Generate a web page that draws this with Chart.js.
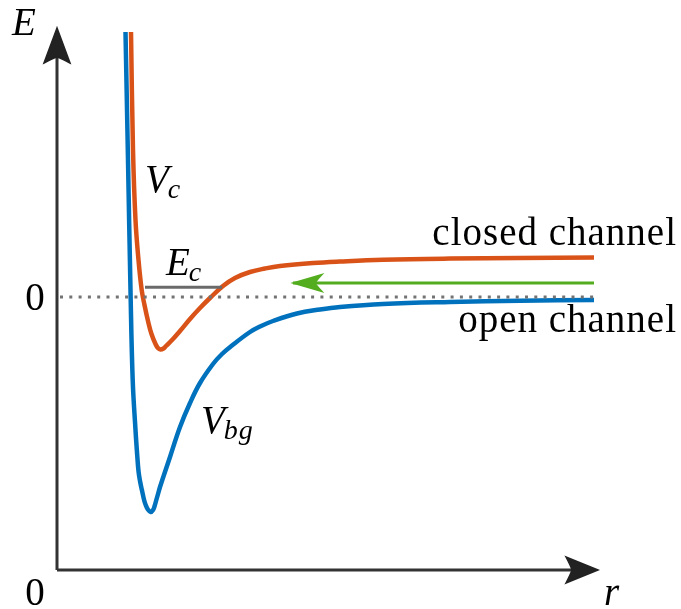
<!DOCTYPE html>
<html lang="en">
<head>
    <meta charset="UTF-8">
    <title>Open and closed channel potentials</title>
    <script src="https://cdn.jsdelivr.net/npm/chart.js"></script>
    <style>
        body {
            margin: 0;
            background: white;
        }
        #potChart {
            display: block;
        }
    </style>
</head>
<body>
    <canvas id="potChart" width="681" height="609"></canvas>

    <script>
        // Background (open channel) potential V_bg
        const rVbg = [0.685, 0.71, 0.735, 0.757, 0.785, 0.802, 0.816, 0.832, 0.849, 0.871, 0.887, 0.906,
                      0.937, 0.96, 0.976, 0.993, 1.013, 1.03, 1.13, 1.23, 1.33, 1.43, 1.56, 1.65, 1.75,
                      1.93, 2.03, 2.16, 2.40, 2.63, 2.83, 3.26, 3.93, 4.63, 5.37];
        const eVbg = [2.65, 1.37, 0.07, -0.83, -1.33, -1.58, -1.75, -1.85, -1.93, -2.03, -2.08, -2.12,
                      -2.15, -2.13, -2.09, -2.03, -1.96, -1.90, -1.60, -1.30, -1.06, -0.86, -0.67, -0.57, -0.485,
                      -0.35, -0.295, -0.24, -0.165, -0.125, -0.10, -0.07, -0.05, -0.038, -0.03];

        // Closed channel potential V_c
        const rVc = [0.74, 0.76, 0.785, 0.815, 0.847, 0.875, 0.91, 0.945, 0.985, 1.009, 1.035, 1.064, 1.09,
                     1.16, 1.23, 1.33, 1.43, 1.53, 1.66, 1.78, 1.93, 2.08, 2.23, 2.56, 2.83, 3.26, 3.93, 4.63, 5.37];
        const eVc = [2.65, 1.47, 0.77, 0.37, 0.07, -0.08, -0.24, -0.37, -0.47, -0.51, -0.525, -0.515, -0.49,
                     -0.42, -0.34, -0.22, -0.11, -0.01, 0.11, 0.19, 0.25, 0.285, 0.31, 0.34, 0.355, 0.372, 0.384, 0.39, 0.395];

        // Bound state level E_c, threshold line and incoming arrow
        const rEc = [0.88, 1.65];
        const eEc = 0.097;
        const rZero = [0.03, 5.37];
        const rIncoming = [5.37, 2.36];
        const eIncoming = 0.14;

        // Axes extents
        const axisOrigin = [0, -2.73];
        const eAxisTop = 2.69;
        const rAxisEnd = 5.41;

        // Text labels: [main, subscript, r, E, align, italic]
        const labels = [
            ['E', '', -0.45, 2.62, 'left', true],
            ['0', '', -0.22, -0.13, 'center', false],
            ['0', '', -0.22, -3.08, 'center', false],
            ['r', '', 5.47, -3.08, 'left', true],
            ['V', 'c', 0.88, 1.05, 'left', true],
            ['E', 'c', 1.09, 0.22, 'left', true],
            ['V', 'bg', 1.44, -1.36, 'left', true],
            ['closed channel', '', 6.20, 0.52, 'right', false],
            ['open channel', '', 6.20, -0.35, 'right', false]
        ];

        const toPoints = (rs, es) => rs.map((r, i) => ({x: r, y: es[i]}));

        const axisColor = '#333333';
        const greenColor = '#53ad1f';

        const arrowHeads = [
            {tip: [axisOrigin[0], eAxisTop], from: axisOrigin, len: 35, half: 13, notch: 6, color: '#222222'},
            {tip: [rAxisEnd, axisOrigin[1]], from: axisOrigin, len: 32, half: 13, notch: 6, color: '#222222'},
            {tip: [rIncoming[1], eIncoming], from: [rIncoming[0], eIncoming], len: 29, half: 8.5, notch: 7, color: greenColor}
        ];

        const overlay = {
            id: 'overlay',
            afterDatasetsDraw(chart) {
                const {ctx, scales: {x, y}} = chart;
                const px = v => x.getPixelForValue(v);
                const py = v => y.getPixelForValue(v);

                // arrow heads
                arrowHeads.forEach(a => {
                    const tx = px(a.tip[0]), ty = py(a.tip[1]);
                    const fx = px(a.from[0]), fy = py(a.from[1]);
                    const ang = Math.atan2(ty - fy, tx - fx);
                    ctx.save();
                    ctx.translate(tx, ty);
                    ctx.rotate(ang);
                    ctx.beginPath();
                    ctx.moveTo(0, 0);
                    ctx.lineTo(-a.len, -a.half);
                    ctx.quadraticCurveTo(-a.len + a.notch * 0.8, -a.half * 0.3, -a.len + a.notch, 0);
                    ctx.quadraticCurveTo(-a.len + a.notch * 0.8, a.half * 0.3, -a.len, a.half);
                    ctx.closePath();
                    ctx.fillStyle = a.color;
                    ctx.strokeStyle = a.color;
                    ctx.lineWidth = 1.5;
                    ctx.lineJoin = 'miter';
                    ctx.fill();
                    ctx.stroke();
                    ctx.restore();
                });

                // labels
                ctx.save();
                ctx.fillStyle = '#000000';
                ctx.textBaseline = 'alphabetic';
                labels.forEach(([main, sub, r, e, align, italic]) => {
                    const mainFont = (italic ? 'italic ' : '') + '39px "Liberation Serif"';
                    const subFont = 'italic 28px "Liberation Serif"';
                    ctx.font = mainFont;
                    ctx.letterSpacing = main.length > 2 ? '1px' : '0px';
                    const w = ctx.measureText(main).width;
                    let left = px(r);
                    if (align === 'right') left -= w;
                    if (align === 'center') left -= w / 2;
                    ctx.textAlign = 'left';
                    ctx.fillText(main, left, py(e));
                    if (sub) {
                        ctx.font = subFont;
                        ctx.letterSpacing = '1px';
                        ctx.fillText(sub, left + w - 1, py(e) + 6);
                    }
                });
                ctx.restore();
            }
        };

        const ctx = document.getElementById('potChart').getContext('2d');
        new Chart(ctx, {
            type: 'scatter',
            data: {
                datasets: [
                    {
                        label: 'E = 0',
                        data: toPoints(rZero, [0, 0]),
                        showLine: true,
                        borderColor: '#737373',
                        borderWidth: 3,
                        borderDash: [3, 6.3],
                        borderCapStyle: 'butt',
                        pointRadius: 0
                    },
                    {
                        label: 'E_c',
                        data: toPoints(rEc, [eEc, eEc]),
                        showLine: true,
                        borderColor: '#6a6a6a',
                        borderWidth: 3,
                        pointRadius: 0
                    },
                    {
                        label: 'incoming',
                        data: toPoints(rIncoming, [eIncoming, eIncoming]),
                        showLine: true,
                        borderColor: greenColor,
                        borderWidth: 3,
                        pointRadius: 0
                    },
                    {
                        label: 'V_bg',
                        data: toPoints(rVbg, eVbg),
                        showLine: true,
                        borderColor: '#0072bd',
                        borderWidth: 4.5,
                        tension: 0.4,
                        pointRadius: 0
                    },
                    {
                        label: 'V_c',
                        data: toPoints(rVc, eVc),
                        showLine: true,
                        borderColor: '#d95319',
                        borderWidth: 4.5,
                        tension: 0.4,
                        pointRadius: 0
                    },
                    {
                        label: 'E axis',
                        data: [{x: axisOrigin[0], y: axisOrigin[1]}, {x: axisOrigin[0], y: eAxisTop - 0.1}],
                        showLine: true,
                        borderColor: axisColor,
                        borderWidth: 3,
                        pointRadius: 0
                    },
                    {
                        label: 'r axis',
                        data: [{x: axisOrigin[0], y: axisOrigin[1]}, {x: rAxisEnd - 0.1, y: axisOrigin[1]}],
                        showLine: true,
                        borderColor: axisColor,
                        borderWidth: 3,
                        pointRadius: 0
                    }
                ]
            },
            options: {
                responsive: false,
                animation: false,
                devicePixelRatio: 1,
                layout: { padding: 0 },
                scales: {
                    x: { type: 'linear', display: false, min: -0.57, max: 6.24 },
                    y: { type: 'linear', display: false, min: -3.12, max: 2.97 }
                },
                plugins: {
                    legend: { display: false },
                    tooltip: { enabled: false }
                }
            },
            plugins: [overlay]
        });
    </script>
</body>
</html>
